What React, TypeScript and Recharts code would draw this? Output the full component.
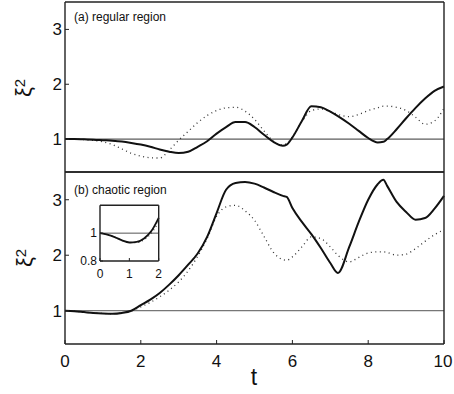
import { LineChart, Line, XAxis, YAxis, ReferenceLine } from "recharts";

// time grid shared by both panels (a few extra points around sharp turns)
const T = [
  0, 0.25, 0.5, 0.75, 1, 1.25, 1.5, 1.75, 2, 2.25, 2.5, 2.75, 3, 3.25, 3.5, 3.75,
  4, 4.25, 4.5, 4.75, 5, 5.25, 5.5, 5.75, 5.85, 6, 6.25, 6.5, 6.75, 7, 7.2, 7.5,
  7.75, 8, 8.25, 8.4, 8.5, 8.75, 9, 9.25, 9.5, 9.75, 10,
];

// (a) regular region
const A_SOLID = [
  1.0, 1.0, 0.995, 0.99, 0.98, 0.97, 0.955, 0.93, 0.9, 0.86, 0.81, 0.77, 0.745, 0.77, 0.86, 0.96,
  1.1, 1.22, 1.31, 1.31, 1.22, 1.08, 0.95, 0.88, 0.9, 1.03, 1.33, 1.6, 1.58, 1.5, 1.42, 1.28,
  1.15, 1.02, 0.94, 0.95, 1.0, 1.18, 1.38, 1.57, 1.74, 1.88, 1.96,
];
const A_DOT = [
  1.0, 1.0, 0.99, 0.975, 0.95, 0.9, 0.82, 0.74, 0.69, 0.66, 0.655, 0.8, 0.98, 1.14, 1.3, 1.43,
  1.52, 1.57, 1.58, 1.51, 1.36, 1.15, 0.96, 0.89, 0.92, 1.04, 1.32, 1.52, 1.55, 1.5, 1.45, 1.41,
  1.45, 1.52, 1.57, 1.6, 1.6, 1.58, 1.52, 1.4, 1.27, 1.33, 1.56,
];

// (b) chaotic region
const B_SOLID = [
  1.0, 0.99, 0.975, 0.96, 0.95, 0.945, 0.96, 1.0, 1.1, 1.2, 1.32, 1.47, 1.64, 1.83, 2.03, 2.33,
  2.76, 3.18, 3.3, 3.32, 3.29, 3.22, 3.14, 3.07, 3.05, 2.85, 2.6, 2.38, 2.13, 1.86, 1.68, 2.15,
  2.6, 3.0, 3.28, 3.36, 3.25, 2.96, 2.78, 2.64, 2.67, 2.84, 3.07,
];
const B_DOT = [
  1.0, 0.99, 0.975, 0.96, 0.95, 0.945, 0.96, 0.995, 1.07, 1.15, 1.25, 1.37, 1.52, 1.72, 1.98, 2.3,
  2.7, 2.87, 2.9, 2.8, 2.63, 2.34, 2.05, 1.92, 1.91, 1.97, 2.15, 2.33, 2.3, 2.15, 2.0, 1.88,
  1.96, 2.04, 2.06, 2.06, 2.05, 2.0, 2.02, 2.12, 2.25, 2.37, 2.46,
];

// inset of (b), t in [0, 2]
const INSET_T = [0, 0.25, 0.5, 0.75, 1, 1.25, 1.5, 1.75, 2];
const INSET_SOLID = [1.0, 0.99, 0.972, 0.948, 0.933, 0.937, 0.962, 1.015, 1.11];
const INSET_DOT = [1.0, 0.99, 0.972, 0.948, 0.932, 0.932, 0.952, 1.0, 1.08];

const X_TICKS = [0, 2, 4, 6, 8, 10];
const Y_TICKS = [1, 2, 3];

const topData = T.map((t, i) => ({ t, solid: A_SOLID[i], dotted: A_DOT[i] }));
const bottomData = T.map((t, i) => ({ t, solid: B_SOLID[i], dotted: B_DOT[i] }));
const insetData = INSET_T.map((t, i) => ({ t, solid: INSET_SOLID[i], dotted: INSET_DOT[i] }));

const FONT = '"Liberation Sans", Arial, Helvetica, sans-serif';
const AXIS = { stroke: "#222", strokeWidth: 1.4 };
const TICK_LINE = { stroke: "#222", strokeWidth: 1 };

const BottomTick = (props: any) => {
  const { x, y, payload } = props;
  // keep "10" inside the picture
  const shift = payload.value === 10 ? -1 : 0;
  return (
    <text x={x + shift} y={y} dy="0.71em" textAnchor="middle" fontSize={17} fill="#111">
      {payload.value}
    </text>
  );
};

// plot box: x 65..444; top panel y 2..172, bottom panel y 172..344
function Panel({ data, bottom }: { data: any[]; bottom: boolean }) {
  return (
    <LineChart
      width={454}
      height={bottom ? 223 : 174}
      data={data}
      margin={{ top: 0, right: 0, bottom: 0, left: 0 }}
    >
      <XAxis
        dataKey="t"
        type="number"
        domain={[0, 10]}
        ticks={X_TICKS}
        height={bottom ? 50 : 2}
        axisLine={AXIS}
        tickLine={bottom ? TICK_LINE : false}
        tickSize={-4}
        tickMargin={15}
        tick={bottom ? <BottomTick /> : false}
      />
      <XAxis
        xAxisId="top"
        orientation="top"
        type="number"
        domain={[0, 10]}
        ticks={X_TICKS}
        height={bottom ? 1 : 2}
        axisLine={AXIS}
        tickLine={bottom ? TICK_LINE : false}
        tickSize={-4}
        tick={false}
      />
      <YAxis
        type="number"
        domain={[0.4, 3.5]}
        ticks={Y_TICKS}
        allowDataOverflow
        width={65}
        axisLine={AXIS}
        tickLine={TICK_LINE}
        tickSize={-4}
        tickMargin={7}
        tick={{ fontSize: 17, fill: "#111" }}
      />
      <YAxis
        yAxisId="right"
        orientation="right"
        type="number"
        domain={[0.4, 3.5]}
        ticks={Y_TICKS}
        allowDataOverflow
        width={10}
        axisLine={AXIS}
        tickLine={TICK_LINE}
        tickSize={-4}
        tick={false}
      />
      <ReferenceLine y={1} stroke={bottom ? "#555" : "#333"} strokeWidth={1} />
      <Line
        dataKey="dotted"
        type="monotone"
        stroke="#333"
        strokeWidth={1.3}
        strokeDasharray="1 3.5"
        dot={false}
        isAnimationActive={false}
      />
      <Line
        dataKey="solid"
        type="monotone"
        stroke="#111"
        strokeWidth={2}
        dot={false}
        isAnimationActive={false}
      />
    </LineChart>
  );
}

// inset box: x 100..158.7, y 205.3..261
function Inset() {
  return (
    <LineChart width={110} height={90} data={insetData} margin={{ top: 0, right: 0, bottom: 0, left: 0 }}>
      <XAxis
        dataKey="t"
        type="number"
        domain={[0, 2]}
        ticks={[0, 1, 2]}
        height={24}
        axisLine={AXIS}
        tickLine={TICK_LINE}
        tickSize={-3}
        tickMargin={11}
        tick={{ fontSize: 12, fill: "#111" }}
      />
      <XAxis
        xAxisId="top"
        orientation="top"
        type="number"
        domain={[0, 2]}
        height={10.3}
        axisLine={AXIS}
        tickLine={false}
        tick={false}
      />
      <YAxis
        type="number"
        domain={[0.8, 1.2]}
        ticks={[0.8, 1]}
        allowDataOverflow
        width={40}
        axisLine={AXIS}
        tickLine={TICK_LINE}
        tickSize={-3}
        tickMargin={6}
        tick={{ fontSize: 12, fill: "#111" }}
      />
      <YAxis
        yAxisId="right"
        orientation="right"
        type="number"
        domain={[0.8, 1.2]}
        width={11.3}
        axisLine={AXIS}
        tickLine={false}
        tick={false}
      />
      <ReferenceLine y={1} stroke="#555" strokeWidth={1} />
      <Line dataKey="dotted" type="monotone" stroke="#333" strokeWidth={1.2} strokeDasharray="1 3" dot={false} isAnimationActive={false} />
      <Line dataKey="solid" type="monotone" stroke="#111" strokeWidth={1.8} dot={false} isAnimationActive={false} />
    </LineChart>
  );
}

const YLabel = ({ cx, cy }: { cx: number; cy: number }) => (
  <div
    style={{
      position: "absolute",
      left: cx - 20,
      top: cy - 15,
      width: 40,
      height: 30,
      lineHeight: "30px",
      textAlign: "center",
      fontSize: 22,
      color: "#111",
      transform: "rotate(-90deg)",
    }}
  >
    ξ<sup style={{ fontSize: 15, verticalAlign: "6px" }}>2</sup>
  </div>
);

const PanelTitle = ({ top, text }: { top: number; text: string }) => (
  <div style={{ position: "absolute", left: 74, top, fontSize: 12, lineHeight: "12px", color: "#111" }}>
    {text}
  </div>
);

export default function App() {
  return (
    <div
      style={{
        position: "absolute",
        left: 0,
        top: 0,
        width: 454,
        height: 394,
        background: "#fff",
        fontFamily: FONT,
        overflow: "hidden",
      }}
    >
      <div style={{ position: "absolute", left: 0, top: 0 }}>
        <Panel data={topData} bottom={false} />
      </div>
      <div style={{ position: "absolute", left: 0, top: 171 }}>
        <Panel data={bottomData} bottom={true} />
      </div>
      <div style={{ position: "absolute", left: 60, top: 195 }}>
        <Inset />
      </div>
      <PanelTitle top={11} text="(a) regular region" />
      <PanelTitle top={184} text="(b) chaotic region" />
      <YLabel cx={20} cy={88} />
      <YLabel cx={21} cy={258} />
      <div
        style={{
          position: "absolute",
          left: 234,
          top: 366,
          width: 40,
          textAlign: "center",
          fontSize: 23,
          lineHeight: "23px",
          color: "#111",
        }}
      >
        t
      </div>
    </div>
  );
}
